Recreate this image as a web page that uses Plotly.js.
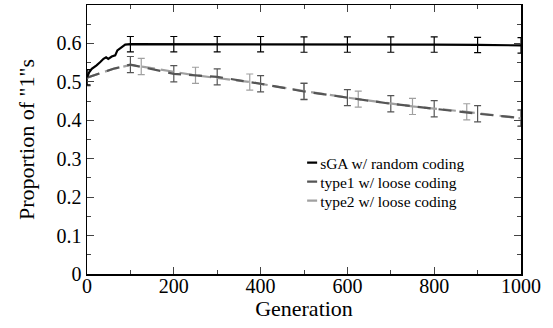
<!DOCTYPE html>
<html><head><meta charset="utf-8">
<script src="https://cdn.plot.ly/plotly-3.0.1.min.js"></script>
<style>body{margin:0;background:#fff}#c{width:553px;height:328px}</style>
</head><body><div id="c"></div>
<script>
// sGA w/ random coding (black)
const sgaX = [0, 5, 11, 17, 22, 30, 38, 44, 49, 57, 65, 70, 80, 88, 100, 200, 300, 400, 500, 600, 700, 800, 900, 1000];
const sgaY = [0.512, 0.525, 0.534, 0.538, 0.543, 0.551, 0.560, 0.564, 0.560, 0.566, 0.569, 0.582, 0.590, 0.597, 0.598, 0.598, 0.598, 0.598, 0.597, 0.597, 0.597, 0.597, 0.596, 0.595];
const sgaErrX = [0, 100, 200, 300, 400, 500, 600, 700, 800, 900, 1000];
const sgaErrY = [0.512, 0.598, 0.598, 0.598, 0.598, 0.597, 0.597, 0.597, 0.597, 0.596, 0.595];
const sgaErr = 0.02;

// type1 w/ loose coding (dark gray)
const t1X = [0, 30, 61, 100, 200, 300, 400, 500, 600, 700, 800, 900, 1000];
const t1Y = [0.511, 0.523, 0.534, 0.545, 0.521, 0.513, 0.495, 0.475, 0.459, 0.443, 0.430, 0.417, 0.406];
const t1ErrX = [0, 100, 200, 300, 400, 500, 600, 700, 800, 900, 1000];
const t1ErrY = [0.511, 0.545, 0.521, 0.513, 0.495, 0.475, 0.459, 0.443, 0.430, 0.417, 0.406];

// type2 w/ loose coding (light gray)
const t2X = [0, 30, 61, 100, 125, 250, 375, 500, 625, 750, 875, 1000];
const t2Y = [0.511, 0.523, 0.534, 0.544, 0.540, 0.517, 0.4995, 0.476, 0.455, 0.436, 0.422, 0.405];
const t2ErrX = [0, 125, 250, 375, 500, 625, 750, 875, 1000];
const t2ErrY = [0.511, 0.540, 0.517, 0.4995, 0.476, 0.455, 0.436, 0.422, 0.405];
const lowErr = 0.021;

const names = ['sGA w/ random coding', 'type1 w/ loose coding', 'type2 w/ loose coding'];
const cols = ['#000000', '#555555', '#a0a0a0'];

function errTrace(x, y, e, c) {
  return {x: x, y: y, mode: 'markers', type: 'scatter', showlegend: false, hoverinfo: 'skip',
    marker: {size: 1, color: 'rgba(0,0,0,0)'},
    error_y: {type: 'constant', value: e, color: c, thickness: 1.2, width: 3.5}};
}

const data = [
  errTrace(t2ErrX, t2ErrY, lowErr, cols[2]),
  errTrace(t1ErrX, t1ErrY, lowErr, cols[1]),
  errTrace(sgaErrX, sgaErrY, sgaErr, cols[0]),
  {x: t2X, y: t2Y, mode: 'lines', type: 'scatter', name: names[2], line: {color: cols[2], width: 2.2, dash: '13px,6px'}},
  {x: t1X, y: t1Y, mode: 'lines', type: 'scatter', name: names[1], line: {color: cols[1], width: 2.2, dash: '13px,8px'}},
  {x: sgaX, y: sgaY, mode: 'lines', type: 'scatter', name: names[0], line: {color: cols[0], width: 2.2}}
];

const font = {family: '"Liberation Serif", "Times New Roman", serif', color: '#000'};
const layout = {
  width: 553, height: 328,
  margin: {l: 87, r: 32, t: 5, b: 54},
  paper_bgcolor: '#fff', plot_bgcolor: '#fff',
  font: Object.assign({size: 16}, font),
  showlegend: true,
  legend: {x: 0.445, y: 0.476, xanchor: 'left', yanchor: 'top', traceorder: 'reversed',
    font: Object.assign({size: 15.5}, font), bgcolor: 'rgba(0,0,0,0)', itemwidth: 30, tracegroupgap: 0},
  xaxis: {range: [0, 1000], tickvals: [0, 200, 400, 600, 800, 1000], ticks: 'inside', ticklen: 7, tickwidth: 1,
    minor: {dtick: 100, tick0: 0, ticks: 'inside', ticklen: 4},
    showline: true, linecolor: '#000', linewidth: 1.5, mirror: 'allticks', showgrid: false, zeroline: false,
    tickfont: Object.assign({size: 20}, font), ticklabelstandoff: -7,
    title: {text: 'Generation', font: Object.assign({size: 22}, font), standoff: 2}},
  yaxis: {range: [0, 0.7], tickvals: [0, 0.1, 0.2, 0.3, 0.4, 0.5, 0.6], ticktext: ['0', '0.1', '0.2', '0.3', '0.4', '0.5', '0.6'],
    ticks: 'inside', ticklen: 7, tickwidth: 1,
    minor: {dtick: 0.05, tick0: 0, ticks: 'inside', ticklen: 4},
    showline: true, linecolor: '#000', linewidth: 1.5, mirror: 'allticks', showgrid: false, zeroline: false,
    tickfont: Object.assign({size: 20}, font), ticklabelstandoff: 0,
    title: {text: 'Proportion of "1"s', font: Object.assign({size: 22}, font), standoff: 16}}
};
Plotly.newPlot('c', data, layout, {displayModeBar: false, staticPlot: true}).then(function (gd) {
  // short solid legend samples and tighter rows like the original
  gd.querySelectorAll('.legend .legendlines path').forEach(function (p) {
    p.setAttribute('d', 'M27,0h10');
    p.style.strokeDasharray = 'none';
  });
  const items = gd.querySelectorAll('.legend .traces');
  let y0 = null;
  items.forEach(function (t, i) {
    const m = /translate\(([-\d.]+),\s*([-\d.]+)\)/.exec(t.getAttribute('transform') || '');
    if (!m) return;
    if (y0 === null) y0 = parseFloat(m[2]);
    t.setAttribute('transform', 'translate(' + m[1] + ',' + (y0 + i * 19) + ')');
  });
});
</script></body></html>
